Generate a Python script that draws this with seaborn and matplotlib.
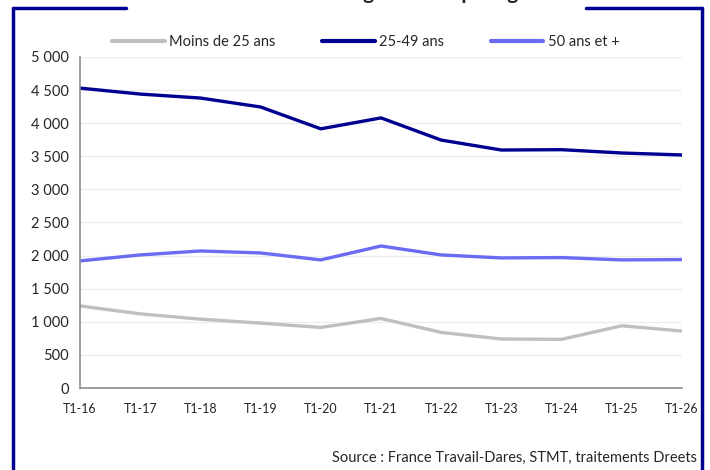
import pandas as pd
import seaborn as sns
import matplotlib.pyplot as plt
from matplotlib.lines import Line2D
from matplotlib.ticker import FuncFormatter

trimestres = ['T1-16', 'T1-17', 'T1-18', 'T1-19', 'T1-20', 'T1-21',
              'T1-22', 'T1-23', 'T1-24', 'T1-25', 'T1-26']
moins_25 = [1240, 1120, 1040, 980, 915, 1050, 840, 740, 735, 940, 860]
de_25_49 = [4530, 4440, 4380, 4245, 3915, 4080, 3745, 3595, 3600, 3550, 3520]
plus_50 = [1920, 2010, 2070, 2040, 1935, 2145, 2010, 1965, 1970, 1935, 1940]

series = ['Moins de 25 ans', '25-49 ans', '50 ans et +']
couleurs = ['#BFBFBF', '#000091', '#6A6AF4']

df = pd.DataFrame({
    'trimestre': trimestres * 3,
    'valeur': moins_25 + de_25_49 + plus_50,
    'serie': [s for s in series for _ in trimestres],
})

sns.set_style('white')
plt.rcParams['font.family'] = ['Lato', 'DejaVu Sans']

fig = plt.figure(figsize=(7.1, 4.7), dpi=100)
ax = fig.add_axes([80 / 710, 82 / 470, 602 / 710, 331 / 470])

sns.lineplot(data=df, x='trimestre', y='valeur', hue='serie',
             palette=dict(zip(series, couleurs)), linewidth=2.4, ax=ax,
             legend=False)

ax.set_xlim(0, len(trimestres) - 1)
ax.set_ylim(0, 5000)
ax.set_yticks(range(0, 5001, 500))
ax.yaxis.set_major_formatter(FuncFormatter(lambda v, p: f'{int(v):,}'.replace(',', ' ')))
ax.grid(axis='y', color='#EEEEEE', linewidth=1)
ax.set_xlabel('')
ax.set_ylabel('')
for s in ['top', 'right']:
    ax.spines[s].set_visible(False)
for s in ['left', 'bottom']:
    ax.spines[s].set_color('#8C8C8C')
    ax.spines[s].set_linewidth(1.2)
ax.tick_params(axis='both', direction='inout', length=8, width=1, color='#8C8C8C')
ax.tick_params(axis='y', labelsize=10.5, pad=4)
ax.tick_params(axis='x', labelsize=9, pad=7)
for spine in ax.spines.values():
    spine.set_clip_on(False)

handles = [Line2D([0], [0], color=c, linewidth=3) for c in couleurs]
fig.legend(handles, series, loc='center', bbox_to_anchor=(366 / 710, 1 - 42 / 470),
           ncol=3, frameon=False, fontsize=10.5, handlelength=3.6,
           handletextpad=0.3, columnspacing=3.2)

fig.text(697 / 710, 1 - 458 / 470, 'Source : France Travail-Dares, STMT, traitements Dreets',
         ha='right', va='center', fontsize=10.5)

# titre coupé en haut comme sur l'original : seuls les jambages dépassent
fig.text(356 / 710, 1 + 1 / 470, 'Demandeurs de longue durée par âge',
         ha='center', va='baseline', fontsize=15, fontweight='bold')

bord = '#000091'
y_top = 1 - 8 / 470
for xs, ys in [([13 / 710, 126 / 710], [y_top, y_top]),
               ([586 / 710, 702 / 710], [y_top, y_top]),
               ([13 / 710, 13 / 710], [y_top, -0.05]),
               ([702 / 710, 702 / 710], [y_top, -0.05])]:
    fig.add_artist(Line2D(xs, ys, color=bord, linewidth=2.5, transform=fig.transFigure))

fig.savefig('out.png', dpi=100)
